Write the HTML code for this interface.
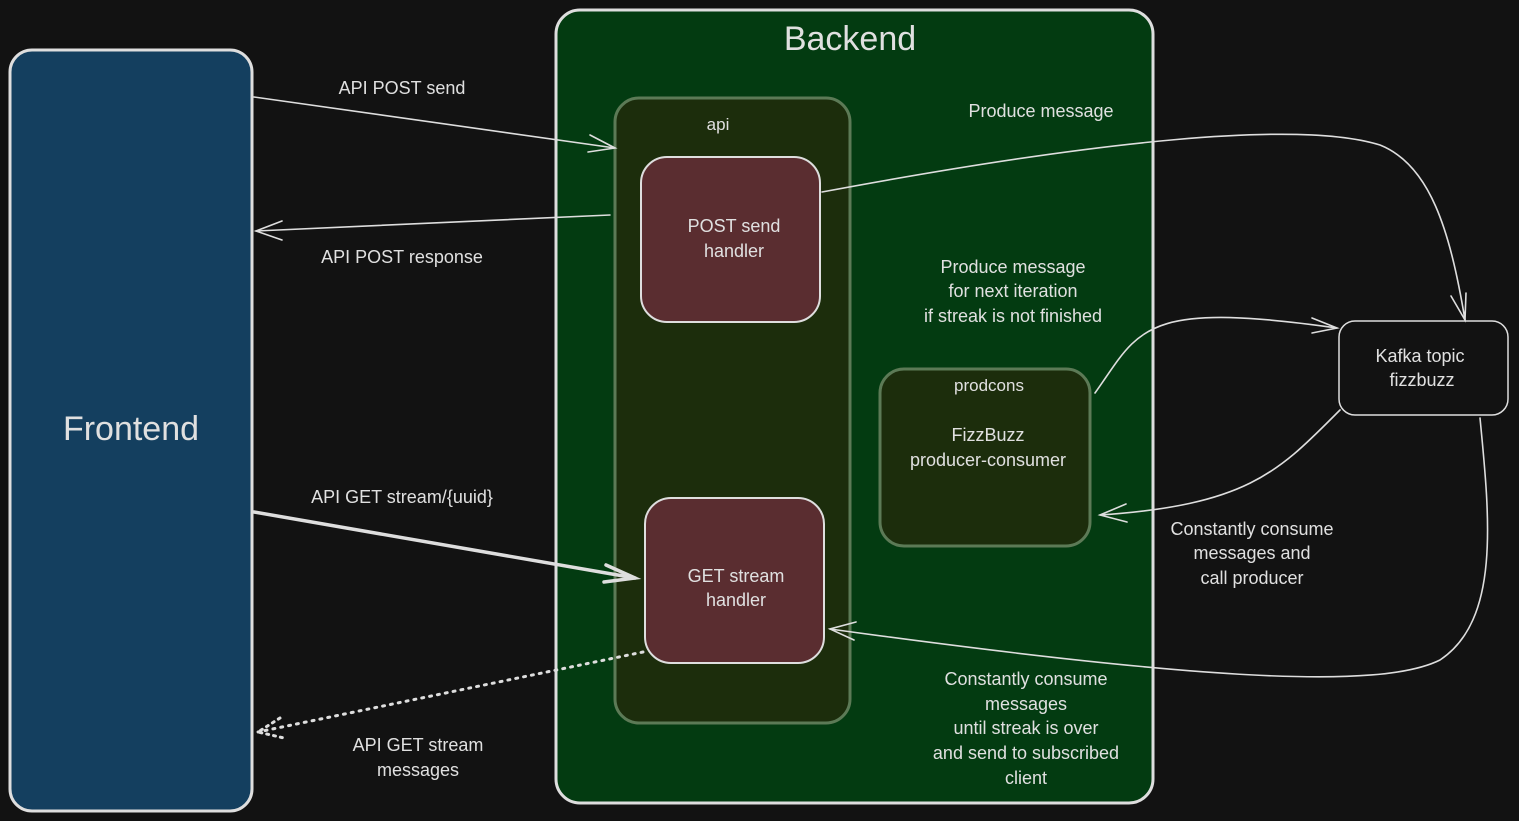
<!DOCTYPE html>
<html><head><meta charset="utf-8"><style>
html,body{margin:0;padding:0;background:#121212;}
svg{display:block}
text{font-family:"Liberation Sans",sans-serif;fill:#e0e0e0;}
</style></head><body>
<svg width="1519" height="821" viewBox="0 0 1519 821" xmlns="http://www.w3.org/2000/svg">
<rect width="1519" height="821" fill="#121212"/>
<!-- Frontend -->
<rect x="10" y="50" width="242" height="761" rx="22" fill="#143f5f" stroke="#dedede" stroke-width="3"/>
<text x="131" y="440" font-size="34" text-anchor="middle">Frontend</text>
<!-- Backend -->
<rect x="556" y="10" width="597" height="793" rx="24" fill="#033b11" stroke="#dedede" stroke-width="3"/>
<text x="850" y="50" font-size="34" text-anchor="middle">Backend</text>
<!-- api -->
<rect x="615" y="98" width="235" height="625" rx="24" fill="#1c2d0c" stroke="#5c7a56" stroke-width="3"/>
<text x="718" y="130" font-size="17" text-anchor="middle">api</text>
<rect x="641" y="157" width="179" height="165" rx="26" fill="#5a2d30" stroke="#dedede" stroke-width="2"/>
<text x="734" y="232" font-size="18" text-anchor="middle">POST send</text>
<text x="734" y="257" font-size="18" text-anchor="middle">handler</text>
<rect x="645" y="498" width="179" height="165" rx="26" fill="#5a2d30" stroke="#dedede" stroke-width="2"/>
<text x="736" y="582" font-size="18" text-anchor="middle">GET stream</text>
<text x="736" y="606" font-size="18" text-anchor="middle">handler</text>
<!-- prodcons -->
<rect x="880" y="369" width="210" height="177" rx="24" fill="#1c2d0c" stroke="#5c7a56" stroke-width="3"/>
<text x="989" y="391" font-size="17" text-anchor="middle">prodcons</text>
<text x="988" y="441" font-size="18" text-anchor="middle">FizzBuzz</text>
<text x="988" y="466" font-size="18" text-anchor="middle">producer-consumer</text>
<!-- Kafka -->
<rect x="1339" y="321" width="169" height="94" rx="16" fill="#121212" stroke="#dedede" stroke-width="1.5"/>
<text x="1420" y="362" font-size="18" text-anchor="middle">Kafka topic</text>
<text x="1422" y="386" font-size="18" text-anchor="middle">fizzbuzz</text>
<g fill="none" stroke="#dedede" stroke-width="1.6" stroke-linecap="round">
<path d="M254 97 L615 148"/><path d="M590 135 L615 148 L588 152"/>
<path d="M610 215 L256 231"/><path d="M282 221 L256 231 L282 240"/>
<path d="M822 192 C1100 140 1300 120 1380 145 C1430 165 1450 230 1465 320"/><path d="M1451 296 L1465 320 L1466 293"/>
<path d="M1095 393 C1140 330 1140 300 1337 328"/><path d="M1312 318 L1337 328 L1312 333"/>
<path d="M1340 410 C1280 470 1250 505 1100 515"/><path d="M1126 504 L1100 515 L1127 522"/>
<path d="M1480 418 C1490 520 1500 620 1440 660 C1380 690 1200 680 830 629"/><path d="M856 622 L830 629 L854 640"/>
<path d="M254 512 L635 578" stroke-width="3.5"/><path d="M606 565 L635 578 L604 582" stroke-width="3.5"/>
<path d="M643 652 L258 732" stroke-dasharray="2 6" stroke-width="3"/><path d="M280 718 L258 732 L284 738" stroke-dasharray="2 5" stroke-width="3"/>
</g>
<g font-size="18">
<text x="402" y="94" text-anchor="middle">API POST send</text>
<text x="402" y="263" text-anchor="middle">API POST response</text>
<text x="1041" y="117" text-anchor="middle">Produce message</text>
<text x="1013" y="273" text-anchor="middle">Produce message</text>
<text x="1013" y="297" text-anchor="middle">for next iteration</text>
<text x="1013" y="322" text-anchor="middle">if streak is not finished</text>
<text x="1252" y="535" text-anchor="middle">Constantly consume</text>
<text x="1252" y="559" text-anchor="middle">messages and</text>
<text x="1252" y="584" text-anchor="middle">call producer</text>
<text x="402" y="503" text-anchor="middle">API GET stream/{uuid}</text>
<text x="1026" y="685" text-anchor="middle">Constantly consume</text>
<text x="1026" y="710" text-anchor="middle">messages</text>
<text x="1026" y="734" text-anchor="middle">until streak is over</text>
<text x="1026" y="759" text-anchor="middle">and send to subscribed</text>
<text x="1026" y="784" text-anchor="middle">client</text>
<text x="418" y="751" text-anchor="middle">API GET stream</text>
<text x="418" y="776" text-anchor="middle">messages</text>
</g>
</svg>
</body></html>
